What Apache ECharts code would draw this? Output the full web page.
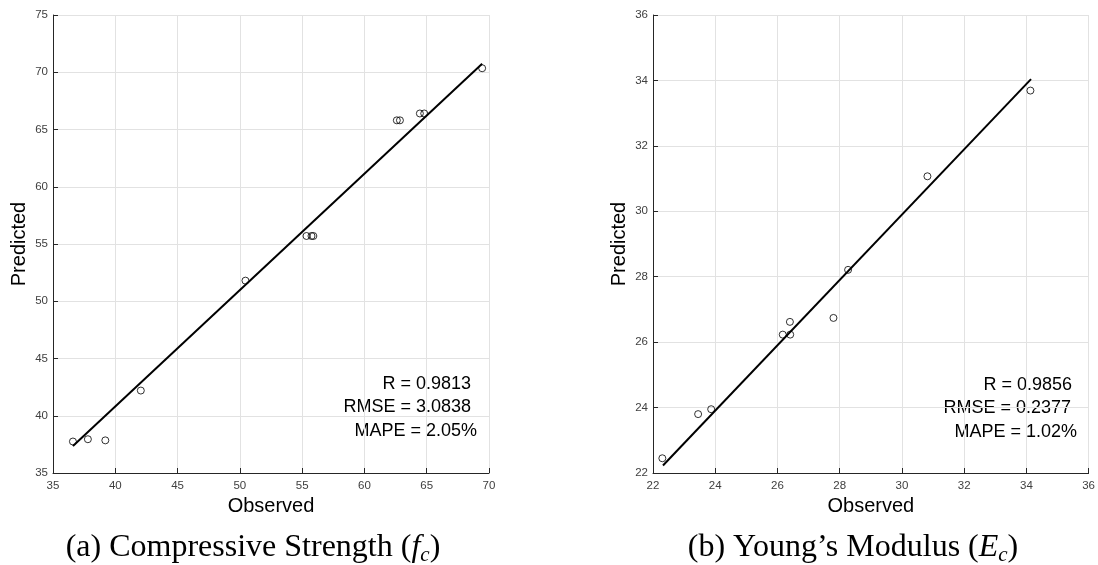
<!DOCTYPE html>
<html><head><meta charset="utf-8">
<script src="https://cdn.jsdelivr.net/npm/echarts@6/dist/echarts.min.js"></script>
<style>html,body{margin:0;padding:0;background:#fff}#c{width:1098px;height:565px}</style>
</head><body><div id="c"></div>
<script>
// (a) Compressive strength
const fcObserved  = [36.6, 37.8, 39.2, 42.05, 50.45, 55.35, 55.75, 55.9, 62.6, 62.85, 64.45, 64.8, 69.45];
const fcPredicted = [37.75, 37.95, 37.85, 42.2, 51.8, 55.7, 55.7, 55.7, 65.8, 65.8, 66.4, 66.4, 70.35];
const fcFitX = [36.6, 69.45];
const fcFitY = [37.35, 70.75];
const fcStats = ['R = 0.9813', 'RMSE = 3.0838', 'MAPE = 2.05%'];
// (b) Young's modulus
const ecObserved  = [22.3, 23.45, 23.87, 26.17, 26.41, 26.4, 27.8, 28.27, 30.82, 34.13];
const ecPredicted = [22.45, 23.8, 23.95, 26.23, 26.23, 26.62, 26.74, 28.21, 31.07, 33.69];
const ecFitX = [22.32, 34.15];
const ecFitY = [22.23, 34.04];
const ecStats = ['R = 0.9856', 'RMSE = 0.2377', 'MAPE = 1.02%'];
// axis ranges
const fcAxis = {min: 35, max: 70, step: 5, ymin: 35, ymax: 75, ystep: 5};
const ecAxis = {min: 22, max: 36, step: 2, ymin: 22, ymax: 36, ystep: 2};

const SANS = 'Liberation Sans';
const SERIF = 'Liberation Serif';
const zip = (a, b) => a.map((v, i) => [v, b[i]]);

function axisCommon(idx, min, max, step) {
  return {
    type: 'value', gridIndex: idx, min: min, max: max, interval: step,
    axisLine: {show: true, onZero: false, lineStyle: {color: '#262626', width: 1}},
    axisTick: {show: true, inside: true, length: 5, lineStyle: {color: '#262626'}},
    axisLabel: {fontSize: 11.5, color: '#404040', fontFamily: SANS},
    splitLine: {show: true, lineStyle: {color: '#e2e2e2', width: 1}}
  };
}
function xAx(idx, a) {
  const o = axisCommon(idx, a.min, a.max, a.step);
  o.name = 'Observed'; o.nameLocation = 'middle'; o.nameGap = 22;
  o.nameTextStyle = {fontSize: 20, color: '#000', fontFamily: SANS};
  o.axisLabel.margin = 7;
  return o;
}
function yAx(idx, a) {
  const o = axisCommon(idx, a.ymin, a.ymax, a.ystep);
  o.name = 'Predicted'; o.nameLocation = 'middle'; o.nameGap = 24;
  o.nameTextStyle = {fontSize: 20, color: '#000', fontFamily: SANS};
  o.axisLabel.margin = 5;
  return o;
}
function scatter(idx, xs, ys) {
  return {type: 'scatter', xAxisIndex: idx, yAxisIndex: idx, data: zip(xs, ys),
    symbol: 'circle', symbolSize: 7, z: 3,
    itemStyle: {color: 'rgba(0,0,0,0)', borderColor: '#000', borderWidth: 1}};
}
function fit(idx, xs, ys) {
  return {type: 'line', xAxisIndex: idx, yAxisIndex: idx, data: zip(xs, ys),
    showSymbol: false, symbol: 'none', z: 4,
    lineStyle: {color: '#000', width: 2}};
}
function statText(lines, rights, ys) {
  return lines.map((t, i) => ({type: 'text', x: rights[i], y: ys[i],
    style: {text: t, fill: '#000', font: '18px ' + SANS, align: 'right', verticalAlign: 'middle',
            textAlign: 'right', textVerticalAlign: 'middle'}}));
}
function caption(x, y, pre, v, sub) {
  return {type: 'text', x: x, y: y,
    style: {
      text: '{n|' + pre + '}{i|' + v + '}{s|' + sub + '}{n|)}',
      align: 'center', verticalAlign: 'middle', textAlign: 'center', textVerticalAlign: 'middle',
      rich: {
        n: {fontFamily: SERIF, fontSize: 32, lineHeight: 36, fill: '#000', color: '#000'},
        i: {fontFamily: SERIF, fontSize: 32, lineHeight: 36, fontStyle: 'italic', fill: '#000', color: '#000'},
        s: {fontFamily: SERIF, fontSize: 21, fontStyle: 'italic', verticalAlign: 'bottom', fill: '#000', color: '#000'}
      }
    }};
}

const chart = echarts.init(document.getElementById('c'), null, {renderer: 'canvas'});
chart.setOption({
  animation: false,
  backgroundColor: '#fff',
  grid: [
    {left: 53, top: 15, width: 436, height: 458},
    {left: 653, top: 15, width: 437, height: 458}
  ],
  xAxis: [xAx(0, fcAxis), xAx(1, ecAxis)],
  yAxis: [yAx(0, fcAxis), yAx(1, ecAxis)],
  series: [
    scatter(0, fcObserved, fcPredicted), fit(0, fcFitX, fcFitY),
    scatter(1, ecObserved, ecPredicted), fit(1, ecFitX, ecFitY)
  ],
  graphic: [].concat(
    statText(fcStats, [471, 471, 477], [384, 407, 431]),
    statText(ecStats, [1072, 1071, 1077], [385, 408, 432]),
    [caption(253, 548, '(a) Compressive Strength (', 'f', 'c'),
     caption(853, 548, '(b) Young\u2019s Modulus (', 'E', 'c')]
  )
});
</script></body></html>
